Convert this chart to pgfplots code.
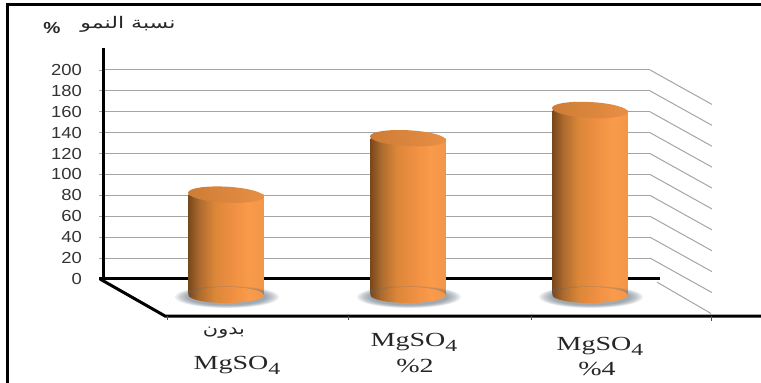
\documentclass[border=0pt]{standalone}
\usepackage{pgfplots}
\pgfplotsset{compat=1.18}
\usepackage{fontspec}
\setmainfont{Liberation Sans}
\newfontfamily\serifcat{Liberation Serif}
\newfontfamily\arabicfont[Script=Arabic]{DejaVu Sans}
\TeXXeTstate=1

\definecolor{gridgray}{RGB}{165,165,165}
\definecolor{shadowcol}{RGB}{95,110,125}
\definecolor{cylA}{RGB}{122,72,28}
\definecolor{cylB}{RGB}{172,106,46}
\definecolor{cylC}{RGB}{218,134,56}
\definecolor{cylD}{RGB}{240,144,67}
\definecolor{cylE}{RGB}{249,155,74}
\definecolor{cylF}{RGB}{243,150,72}
\definecolor{topA}{RGB}{205,124,54}
\definecolor{topB}{RGB}{232,143,68}

% Cylinder body: dark on the left, brightest towards the right
\pgfdeclarehorizontalshading{cylbody}{100bp}{
  color(0bp)=(cylA);
  color(25bp)=(cylA);
  color(32bp)=(cylB);
  color(42bp)=(cylC);
  color(55bp)=(cylD);
  color(65bp)=(cylE);
  color(75bp)=(cylF);
  color(100bp)=(cylF)}
\pgfdeclarehorizontalshading{cyltopface}{100bp}{
  color(0bp)=(topA);
  color(25bp)=(topA);
  color(75bp)=(topB);
  color(100bp)=(topB)}

% Cylinder ends and the soft shadow on the floor
\pgfdeclareplotmark{cyltop}{%
  \pgfpathellipse{\pgfpointorigin}{\pgfpoint{38pt}{-2pt}}{\pgfpoint{0.4pt}{8pt}}%
  \pgfshadepath{cyltopface}{0}\pgfusepath{discard}}
\pgfdeclareplotmark{cylbase}{%
  \pgfpathellipse{\pgfpointorigin}{\pgfpoint{37.6pt}{0pt}}{\pgfpoint{0pt}{8pt}}%
  \pgfshadepath{cylbody}{0}\pgfusepath{discard}}
\pgfdeclareplotmark{floorshadow}{%
  \foreach \r in {1,0.96,0.92,0.88,0.84,0.8,0.76}{%
    \pgfpathellipse{\pgfpoint{1pt}{-2pt}}{\pgfpoint{\r*52pt}{0pt}}{\pgfpoint{0pt}{\r*11pt}}%
    \pgfusepath{fill}}}

\newcommand{\mgso}{MgSO\raisebox{-5pt}{\fontsize{17}{17}\selectfont 4}}
\tikzset{catlabel/.style={font=\serifcat\fontsize{20}{20}\selectfont, text=black!85, xscale=1.4, anchor=base, inner sep=0pt}}

\begin{document}
\begin{tikzpicture}[x=1pt,y=1pt]
\path[use as bounding box] (0,0) rectangle (761,383);
% Back wall, side wall and floor of the chart
\begin{axis}[
  at={(103pt,104pt)}, anchor=south west,
  width=547pt, height=231pt, scale only axis,
  xmin=103, xmax=650, ymin=0, ymax=221,
  clip=false,
  unbounded coords=jump,
  axis x line=none,
  axis y line=left,
  axis line style={black, line width=3pt, -},
  ytick={0,20,...,200},
  ymajorgrids,
  grid style={gridgray, line width=1pt},
  ytick style={gridgray, line width=0.8pt},
  tick align=outside,
  major tick length=4pt,
  tick label style={font=\fontsize{16}{16}\selectfont, text=black!80, xscale=1.15, inner sep=0pt},
  yticklabel style={/pgf/number format/assume math mode=true},
  ytick pos=left,
  yticklabel shift=17pt,
]
% receding grid lines on the side wall
\addplot[gridgray, line width=1pt, forget plot] coordinates {
  (650,200) (712,167) (nan,nan)
  (650,180) (712,147) (nan,nan)
  (650,160) (712,127) (nan,nan)
  (650,140) (712,107) (nan,nan)
  (650,120) (712,87) (nan,nan)
  (650,100) (712,67) (nan,nan)
  (650,80) (712,47) (nan,nan)
  (650,60) (712,27) (nan,nan)
  (650,40) (712,7) (nan,nan)
  (650,20) (712,-13) (nan,nan)
  (657,-3) (711,-33)};
% floor edges
\addplot[black, line width=3pt, forget plot] coordinates {(99,0) (660,0)};
\addplot[black, line width=3pt, forget plot] coordinates {(100,0) (165,-35.4) (761,-35.4)};
% floor tick marks
\addplot[black!70, line width=0.8pt, forget plot] coordinates {
  (167,-35.4) (167,-39) (nan,nan)
  (348,-35.4) (348,-39) (nan,nan)
  (531,-35.4) (531,-39) (nan,nan)
  (711,-35.4) (711,-40)};
% category labels
\node[font=\arabicfont\fontsize{16}{16}\selectfont, text=black!85, xscale=1.3] at (axis cs:224,-51) {\beginR بدون\endR};
\node[catlabel] at (axis cs:237,-87) {\mgso};
\node[catlabel] at (axis cs:414,-65) {\mgso};
\node[catlabel] at (axis cs:415,-89) {\%2};
\node[catlabel] at (axis cs:600,-68) {\mgso};
\node[catlabel] at (axis cs:597,-92) {\%4};
% axis title
\node[font=\fontsize{16}{16}\selectfont\bfseries, text=black!85, xscale=1.2] at (axis cs:52,240.5) {\%};
\node[font=\arabicfont\fontsize{16}{16}\selectfont, text=black!85, xscale=1.38] at (axis cs:128,244) {\beginR نسبة النمو\endR};
% chart frame
\addplot[black, line width=3pt, forget plot] coordinates {(7,-100) (7,262.3) (761,262.3)};
\end{axis}
% Cylinders stand midway along the floor, so their zero lies lower than the wall's
\begin{axis}[
  at={(103pt,48pt)}, anchor=south west,
  width=547pt, height=287pt, scale only axis,
  xmin=103, xmax=650, ymin=-38.28, ymax=236.36,
  clip=false, hide axis,
]
\addplot[only marks, mark=floorshadow, draw=none, fill=shadowcol, fill opacity=0.12] coordinates {(226,0) (408,0) (590,0)};
\addplot[only marks, mark=cylbase, draw=none] coordinates {(226,0) (408,0) (590,0)};
\addplot[ybar, bar width=75, bar shift=0pt, draw=none, shading=cylbody] coordinates {(226,96)};
\addplot[ybar, bar width=75, bar shift=0pt, draw=none, shading=cylbody] coordinates {(408,150)};
\addplot[ybar, bar width=75, bar shift=0pt, draw=none, shading=cylbody] coordinates {(590,177)};
\addplot[only marks, mark=cyltop, draw=none] coordinates {(226,96) (408,150) (590,177)};
\end{axis}
\end{tikzpicture}
\end{document}
